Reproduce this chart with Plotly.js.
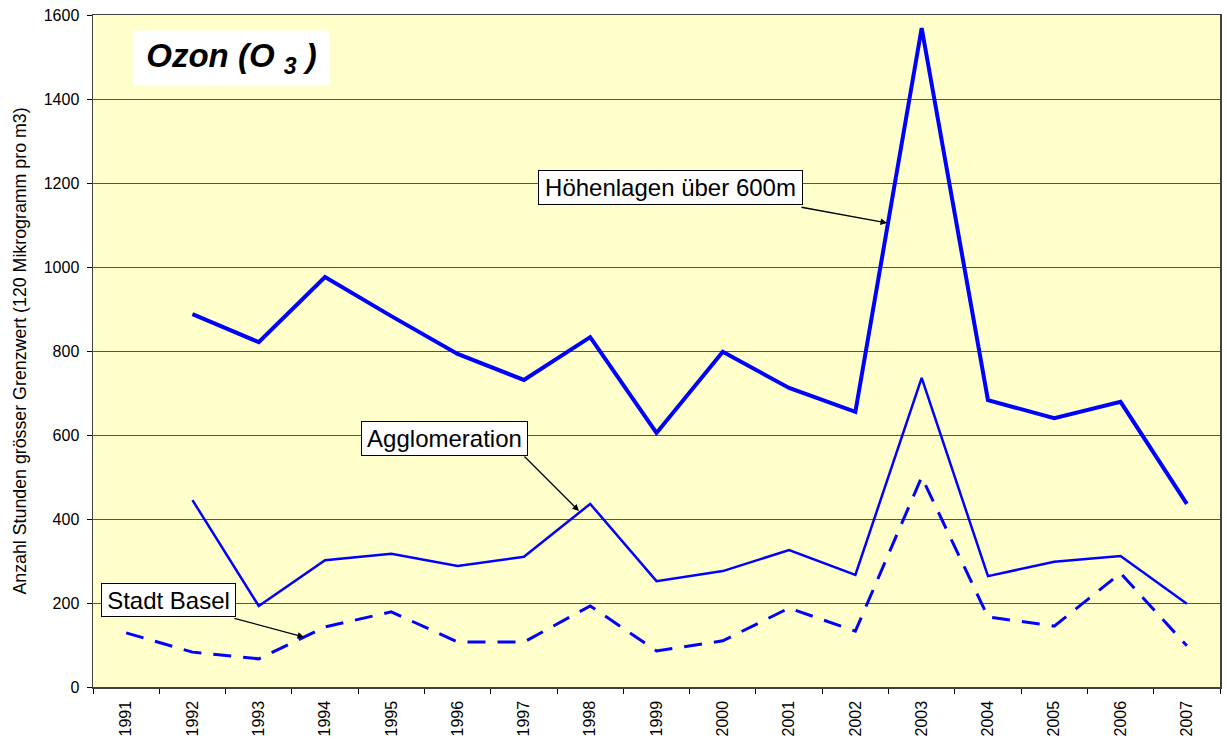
<!DOCTYPE html>
<html>
<head>
<meta charset="utf-8">
<script src="https://cdn.plot.ly/plotly-3.0.1.min.js"></script>
<style>html,body{margin:0;padding:0;background:#fff;}#chart{width:1227px;height:747px;}</style>
</head>
<body>
<div id="chart"></div>
<script>
var years = ['1991','1992','1993','1994','1995','1996','1997','1998','1999','2000','2001','2002','2003','2004','2005','2006','2007'];
var hoehenlagen = [null, 888, 821, 976, 883, 793, 731, 833, 605, 798, 712, 655, 1569, 683, 640, 679, 436];
var agglomeration = [null, 445, 193, 302, 317, 288, 310, 436, 252, 276, 326, 267, 736, 264, 298, 312, 198];
var stadtBasel = [129, 83, 67, 143, 179, 107, 107, 193, 86, 110, 188, 133, 500, 167, 145, 271, 98];
var yTicks = [0, 200, 400, 600, 800, 1000, 1200, 1400, 1600];

var traces = [
  {x: years, y: hoehenlagen, type: 'scatter', mode: 'lines', name: 'Höhenlagen über 600m',
   line: {color: '#0000FF', width: 4}, connectgaps: false},
  {x: years, y: agglomeration, type: 'scatter', mode: 'lines', name: 'Agglomeration',
   line: {color: '#0000FF', width: 2.5}},
  {x: years, y: stadtBasel, type: 'scatter', mode: 'lines', name: 'Stadt Basel',
   line: {color: '#0000FF', width: 3, dash: '18px,12px'}}
];

var boxFont = {family: 'Liberation Sans, Arial, sans-serif', size: 24, color: '#000'};
var layout = {
  width: 1227, height: 747,
  margin: {l: 93, r: 7, t: 15, b: 60},
  paper_bgcolor: '#FFFFFF',
  plot_bgcolor: '#FFFFCC',
  showlegend: false,
  font: {family: 'Liberation Sans, Arial, sans-serif', color: '#000'},
  xaxis: {
    type: 'category', range: [-0.5, 16.5], tickson: 'boundaries',
    ticks: 'outside', ticklen: 5, tickcolor: '#000', tickangle: -90, ticklabelstandoff: 6,
    tickfont: {family: 'Liberation Sans, Arial, sans-serif', size: 16, color: '#000'},
    showgrid: false, showline: true, linecolor: '#404040', linewidth: 1.5,
    mirror: true, zeroline: false, fixedrange: true, automargin: false
  },
  yaxis: {
    range: [0, 1600], tickvals: yTicks, ticktext: yTicks.map(String),
    ticks: 'outside', ticklen: 5, tickcolor: '#000', ticklabelstandoff: 4,
    tickfont: {size: 16}, showgrid: true, gridcolor: '#555555', gridwidth: 1,
    showline: true, linecolor: '#404040', linewidth: 1.5, mirror: true, zeroline: false,
    title: {text: 'Anzahl Stunden grösser Grenzwert (120 Mikrogramm pro m3)', font: {size: 17.8}, standoff: 12},
    fixedrange: true
  },
  annotations: [
    {xref: 'paper', yref: 'paper', x: 0.1229, y: 0.936, showarrow: false,
     text: '<b><i>Ozon (O <sub>3</sub> )</i></b>', bgcolor: '#FFFFFF', width: 195, height: 54, borderpad: 0,
     font: {family: 'Liberation Sans, Arial, sans-serif', size: 33, color: '#000'}, xanchor: 'center', yanchor: 'middle'},
    {xref: 'paper', yref: 'paper', x: 0.5124, y: 0.7433, showarrow: false, xanchor: 'center', yanchor: 'middle',
     text: 'Höhenlagen über 600m', bgcolor: '#FFFFFF', bordercolor: '#000', borderwidth: 1,
     width: 263, height: 33, borderpad: 0, font: boxFont},
    {xref: 'paper', yref: 'paper', x: 0.7045, y: 0.6905, showarrow: true, text: '',
     ax: -87, ay: -16, arrowhead: 2, arrowsize: 1, arrowwidth: 1.3, arrowcolor: '#000'},
    {xref: 'paper', yref: 'paper', x: 0.3119, y: 0.3698, showarrow: false, xanchor: 'center', yanchor: 'middle',
     text: 'Agglomeration', bgcolor: '#FFFFFF', bordercolor: '#000', borderwidth: 1,
     width: 165, height: 33, borderpad: 0, font: boxFont},
    {xref: 'paper', yref: 'paper', x: 0.4312, y: 0.2619, showarrow: true, text: '',
     ax: -56, ay: -56, arrowhead: 2, arrowsize: 1, arrowwidth: 1.3, arrowcolor: '#000'},
    {xref: 'paper', yref: 'paper', x: 0.0674, y: 0.1295, showarrow: false, xanchor: 'center', yanchor: 'middle',
     text: 'Stadt Basel', bgcolor: '#FFFFFF', bordercolor: '#000', borderwidth: 1,
     width: 133, height: 32, borderpad: 0, font: boxFont},
    {xref: 'paper', yref: 'paper', x: 0.1872, y: 0.0744, showarrow: true, text: '',
     ax: -71, ay: -19, arrowhead: 2, arrowsize: 1, arrowwidth: 1.3, arrowcolor: '#000'}
  ]
};

Plotly.newPlot('chart', traces, layout, {displayModeBar: false, staticPlot: true});
</script>
</body>
</html>
